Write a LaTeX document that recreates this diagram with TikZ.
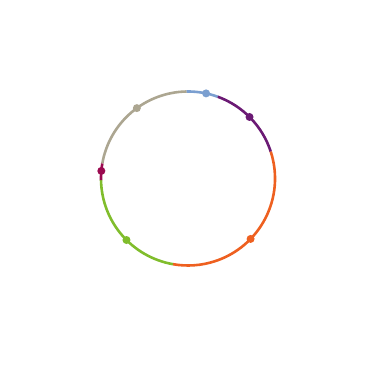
\documentclass[tikz,border=0pt]{standalone}
\usetikzlibrary{calc}
\definecolor{ringblue}{HTML}{7B9FD0}
\definecolor{ringpurple}{HTML}{6B1A74}
\definecolor{ringorange}{HTML}{EE6020}
\definecolor{ringgreen}{HTML}{80BD2C}
\definecolor{ringcrimson}{HTML}{9B0A50}
\definecolor{ringgray}{HTML}{ACA691}
\tikzset{seg/.style={line width=2.6pt}}
\tikzset{dot/.style={circle, minimum size=8pt, inner sep=0pt}}
\begin{document}
\begin{tikzpicture}[x=1pt,y=1pt]
\useasboundingbox (0,0) rectangle (368,375);
\coordinate (c) at (188,196.5);

% ring segments: start angle / end angle / colour
\foreach \a/\b/\col in {91/70/ringblue, 70/18/ringpurple, 18/-100/ringorange,
                        260/181/ringgreen, 181/170/ringcrimson, 170/91/ringgray}
  \draw[seg, \col] ($(c)+(\a:87)$) arc[start angle=\a, end angle=\b, radius=87];

% markers
\node[dot, fill=ringblue] (blue) at ($(c)+(78:87)$) {};
\node[dot, fill=ringpurple] (purple) at ($(c)+(45:87)$) {};
\node[dot, fill=ringorange] (orange) at ($(c)+(-44:87)$) {};
\node[dot, fill=ringgreen] (green) at ($(c)+(225:87)$) {};
\node[dot, fill=ringcrimson] (crimson) at ($(c)+(175:87)$) {};
\node[dot, fill=ringgray] (gray) at ($(c)+(126:87)$) {};
\end{tikzpicture}
\end{document}
